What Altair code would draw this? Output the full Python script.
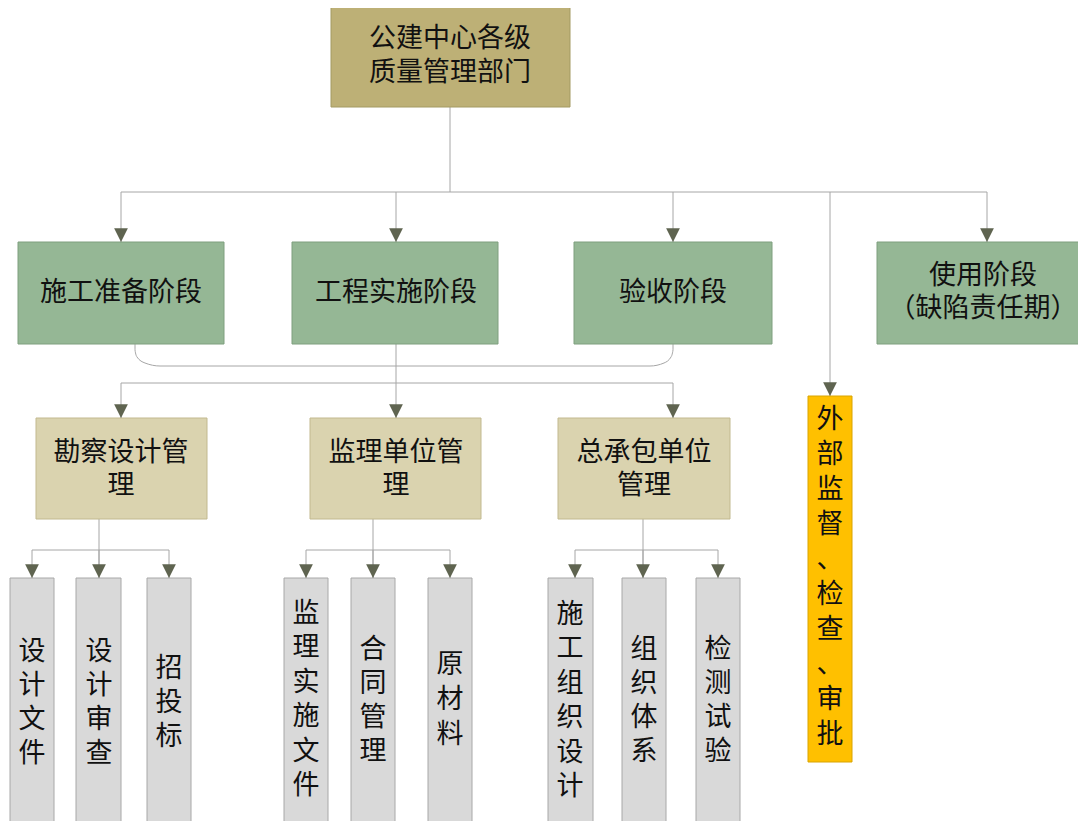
import altair as alt
import pandas as pd

# ---- nodes: label (lines split by "|"), box left, right, top, bottom, kind
node_labels = ["公建中心各级|质量管理部门",
               "施工准备阶段", "工程实施阶段", "验收阶段", "使用阶段|（缺陷责任期）",
               "勘察设计管|理", "监理单位管|理", "总承包单位|管理",
               "设计文件", "设计审查", "招投标",
               "监理实施文件", "合同管理", "原材料",
               "施工组织设计", "组织体系", "检测试验",
               "外部监督、检查、审批"]
node_x0 = [331, 18, 292, 574, 877, 36, 310, 558, 10, 76, 147, 284, 351, 428, 548, 622, 696, 808]
node_x1 = [570, 224, 498, 772, 1097, 207, 481, 730, 54, 121, 191, 328, 395, 472, 593, 666, 740, 852]
node_y0 = [5, 242, 242, 242, 242, 418, 418, 418, 578, 578, 578, 578, 578, 578, 578, 578, 578, 396]
node_y1 = [107, 344, 344, 344, 344, 519, 519, 519, 830, 830, 830, 830, 830, 830, 830, 830, 830, 762]
node_kind = ["top", "phase", "phase", "phase", "phase", "unit", "unit", "unit",
             "item", "item", "item", "item", "item", "item", "item", "item", "item", "ext"]
node_vertical = [False] * 8 + [True] * 10
node_text_cx = [450, 121, 396, 673, 983, 121, 396, 644, 32, 99, 169, 306, 373, 450, 570, 644, 718, 830]
node_text_cy = [56, 293, 293, 293, 292, 469, 469, 469, 703, 703, 703, 700, 701, 700, 701, 701, 701, 577]
node_line_h = [34, 33, 33, 33, 33, 33, 33, 33, 34, 34, 34, 34.5, 34, 35, 34.5, 34, 34, 35]

kind_fill = {"top": "#BDB076", "phase": "#95B795", "unit": "#DAD3AF", "item": "#D9D9D9", "ext": "#FFC000"}
kind_stroke = {"top": "#a39a63", "phase": "#7f9f7f", "unit": "#c2b98f", "item": "#a8a8a8", "ext": "#d9a400"}

# ---- straight connector segments (x, y, x2, y2)
seg_x = [450, 121, 121, 396, 673, 987, 830, 121, 121, 396, 673,
         99, 32, 32, 99, 169, 373, 306, 306, 373, 450, 643, 575, 575, 643, 718]
seg_y = [107, 192, 192, 192, 192, 192, 192, 383, 383, 344, 383,
         519, 550, 550, 550, 550, 519, 550, 550, 550, 550, 519, 550, 550, 550, 550]
seg_x2 = [450, 987, 121, 396, 673, 987, 830, 673, 121, 396, 673,
          99, 169, 32, 99, 169, 373, 450, 306, 373, 450, 643, 718, 575, 643, 718]
seg_y2 = [192, 192, 242, 242, 242, 242, 396, 383, 418, 418, 418,
          578, 550, 578, 578, 578, 578, 550, 578, 578, 578, 578, 550, 578, 578, 578]

# ---- arrow tips
arrow_x = [121, 396, 673, 987, 830, 121, 396, 673, 32, 99, 169, 306, 373, 450, 575, 643, 718]
arrow_y = [242, 242, 242, 242, 396, 418, 418, 418, 578, 578, 578, 578, 578, 578, 578, 578, 578]

# ---- curved bracket linking the phases
curve_x = [135, 135, 137, 145, 160, 400, 650, 664, 671, 673, 673]
curve_y = [344, 350, 357, 363, 366, 366, 366, 363, 357, 350, 344]

nodes = pd.DataFrame({
    "label": node_labels, "x0": node_x0, "x1": node_x1, "y0": node_y0, "y1": node_y1,
    "kind": node_kind,
})

# text rows: one per line (or per character for vertical labels)
rows = []
for lab, cy, cx, lh, vert in zip(node_labels, node_text_cy, node_text_cx, node_line_h, node_vertical):
    lines = list(lab.replace("|", "")) if vert else lab.split("|")
    n = len(lines)
    for i, ln in enumerate(lines):
        rows.append({"t": ln, "x": cx, "y": cy + (i - (n - 1) / 2) * lh})
texts = pd.DataFrame(rows)

segs = pd.DataFrame({"x": seg_x, "y": seg_y, "x2": seg_x2, "y2": seg_y2})
arrows = pd.DataFrame({"x": arrow_x, "y": arrow_y})
curve = pd.DataFrame({"x": curve_x, "y": curve_y, "o": list(range(len(curve_x)))})

X = alt.Scale(domain=[8, 1078], nice=False, zero=False)
Y = alt.Scale(domain=[8, 821], nice=False, zero=False, reverse=True)
kinds = list(kind_fill.keys())
fill_scale = alt.Scale(domain=kinds, range=[kind_fill[k] for k in kinds])
stroke_scale = alt.Scale(domain=kinds, range=[kind_stroke[k] for k in kinds])

line_color = "#a6a6a6"

seg_layer = alt.Chart(segs).mark_rule(color=line_color, strokeWidth=1).encode(
    x=alt.X("x:Q", scale=X, axis=None), y=alt.Y("y:Q", scale=Y, axis=None),
    x2="x2:Q", y2="y2:Q")

curve_layer = alt.Chart(curve).mark_line(color=line_color, strokeWidth=1, interpolate="monotone").encode(
    x=alt.X("x:Q", scale=X, axis=None), y=alt.Y("y:Q", scale=Y, axis=None), order="o:Q")

box_layer = alt.Chart(nodes).mark_rect(strokeWidth=1).encode(
    x=alt.X("x0:Q", scale=X, axis=None), x2="x1:Q",
    y=alt.Y("y0:Q", scale=Y, axis=None), y2="y1:Q",
    fill=alt.Fill("kind:N", scale=fill_scale, legend=None),
    stroke=alt.Stroke("kind:N", scale=stroke_scale, legend=None))

arrow_layer = alt.Chart(arrows).mark_point(
    shape="M -1 -2 L 1 -2 L 0 0 Z", size=190, filled=True, opacity=1,
    color="#5f6450").encode(
    x=alt.X("x:Q", scale=X, axis=None), y=alt.Y("y:Q", scale=Y, axis=None))

text_layer = alt.Chart(texts).mark_text(
    font="Noto Sans CJK SC", fontSize=27, color="#111111",
    baseline="middle", align="center").encode(
    x=alt.X("x:Q", scale=X, axis=None), y=alt.Y("y:Q", scale=Y, axis=None), text="t:N")

chart = alt.layer(seg_layer, curve_layer, box_layer, arrow_layer, text_layer).properties(
    width=1070, height=813, padding=0, autosize=alt.AutoSizeParams(type="none"),
    background="white"
).configure_view(stroke=None)

chart.save("out.html", embed_options={"renderer": "svg", "actions": False})
